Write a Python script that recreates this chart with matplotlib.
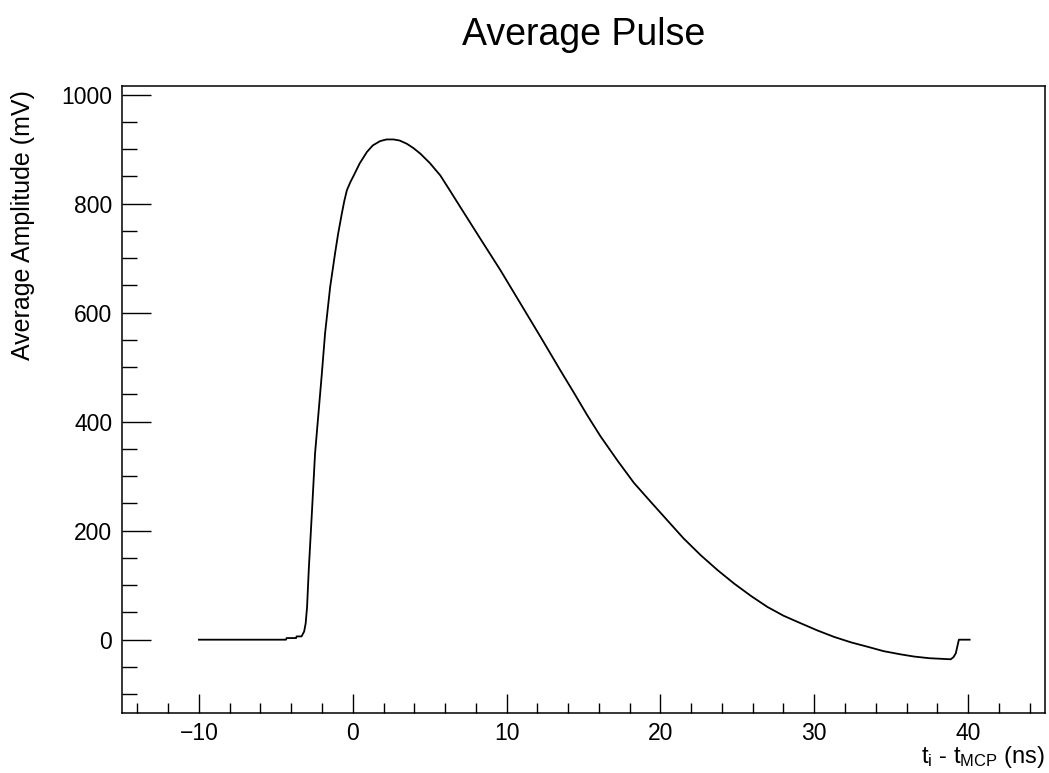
import matplotlib
matplotlib.use("Agg")
import matplotlib.pyplot as plt
from matplotlib.ticker import MultipleLocator

plt.rcParams['font.family'] = ['Liberation Sans', 'DejaVu Sans']
plt.rcParams['mathtext.fontset'] = 'custom'
plt.rcParams['mathtext.rm'] = 'Liberation Sans'

# Average pulse shape
time_ns = [-10.0, -4.34, -4.3, -3.68, -3.65, -3.33, -3.16, -3.06, -2.97, -2.86,
           -2.66, -2.45, -2.23, -2.01, -1.80, -1.47, -1.15, -0.95, -0.71, -0.55,
           -0.38, -0.15, 0.05, 0.45, 0.92, 1.30, 1.78, 2.20, 2.65, 3.05,
           3.52, 3.95, 4.39, 5.00, 5.69, 6.30, 6.99, 8.29, 9.60, 10.90,
           12.20, 13.50, 14.40, 15.24, 16.11, 17.20, 18.27, 19.40, 20.45, 21.50,
           22.62, 23.70, 24.79, 25.90, 26.96, 28.00, 29.13, 30.20, 31.30, 32.40,
           33.47, 34.50, 35.63, 36.50, 37.48, 38.20, 38.87, 39.05, 39.20, 39.40,
           40.10]
amplitude_mV = [0, 0, 3, 3, 6, 6, 15, 30, 60, 128,
                231, 342, 415, 488, 562, 647, 709, 745, 782, 805,
                825, 840, 851, 874, 895, 907, 915, 918, 918, 916,
                910, 902, 892, 875, 852, 825, 794, 736, 678, 617,
                556, 494, 452, 412, 373, 329, 288, 252, 219, 186,
                155, 128, 103, 80, 60, 44, 30, 17, 5, -5,
                -13, -21, -27, -31, -34, -35, -36, -32, -25, 0,
                0]

fig = plt.figure(figsize=(10.49, 7.73), dpi=100)
ax = fig.add_axes([0.1163, 0.0780, 0.8799, 0.8107])
ax.plot(time_ns, amplitude_mV, color='black', lw=1.3)

ax.set_xlim(-15, 45)
ax.set_ylim(-134, 1016)
ax.xaxis.set_major_locator(MultipleLocator(10))
ax.xaxis.set_minor_locator(MultipleLocator(2))
ax.yaxis.set_major_locator(MultipleLocator(200))
ax.yaxis.set_minor_locator(MultipleLocator(50))
ax.tick_params(axis='both', which='both', direction='in', top=False, right=False,
               width=1.0, labelsize=16.5)
ax.tick_params(axis='x', which='major', length=14, pad=7)
ax.tick_params(axis='x', which='minor', length=7)
ax.tick_params(axis='y', which='major', length=21, pad=7)
ax.tick_params(axis='y', which='minor', length=11)
for s in ax.spines.values():
    s.set_linewidth(1.1)

fig.text(0.5563, (773 - 45) / 773, 'Average Pulse', fontsize=27,
         ha='center', va='baseline')
fig.text(23 / 1049, (773 - 90) / 773, 'Average Amplitude (mV)', fontsize=18,
         rotation=90, ha='center', va='top')
fig.text(1045 / 1049, (773 - 763) / 773,
         r'$\mathregular{t_{i}}$ - $\mathregular{t_{MCP}}$ (ns)', fontsize=17,
         ha='right', va='baseline')

fig.savefig('out.png', dpi=100)
